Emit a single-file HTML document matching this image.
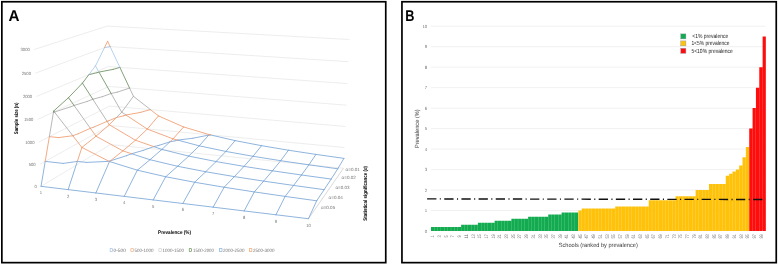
<!DOCTYPE html>
<html><head><meta charset="utf-8"><title>Figure</title>
<style>html,body{margin:0;padding:0;background:#fff}svg{display:block}</style></head>
<body>
<svg width="778" height="265" viewBox="0 0 778 265" style="display:block" text-rendering="geometricPrecision">
<rect width="778" height="265" fill="#fff"/>
<rect x="1.85" y="1.75" width="383.9" height="260.9" fill="none" stroke="#000" stroke-width="1.7"/>
<rect x="401.95" y="1.75" width="374.3" height="260.9" fill="none" stroke="#000" stroke-width="1.7"/>
<text x="8.6" y="20.7" font-family="Liberation Sans, Arial, sans-serif" font-weight="bold" text-rendering="geometricPrecision" font-size="15.7" fill="#000" textLength="11" lengthAdjust="spacingAndGlyphs">A</text>
<text x="405.2" y="20.9" font-family="Liberation Sans, Arial, sans-serif" font-weight="bold" text-rendering="geometricPrecision" font-size="15.7" fill="#000" textLength="9.2" lengthAdjust="spacingAndGlyphs">B</text>
<path d="M41.03 186.32L110.51 144.58L343.48 168.25M39.92 164.34L109.98 125.44L344.46 147.51M38.78 142.05L109.44 106.06L345.46 126.49M37.63 119.43L108.89 86.43L346.47 105.18M36.47 96.48L108.34 66.57L347.49 83.58M35.28 73.19L107.78 46.45L348.53 61.69M34.08 49.56L107.21 26.07L349.58 39.49" fill="none" stroke="#e8e8e8" stroke-width="0.8"/>
<path d="M308.45 218.72L343.48 168.25" fill="none" stroke="#cfcfcf" stroke-width="0.8"/>
<path d="M41.03 186.32L68.16 189.61M41.03 186.32L45.22 161.4M68.16 189.61L95.88 192.96M68.16 189.61L77.35 161.4M109.14 161.36L109.48 161.53M95.88 192.96L124.22 196.4M95.88 192.96L109.48 161.53M109.48 161.53L137.35 170.19M109.48 161.53L110.38 160.82M131.6 153.72L150 159.71M153.77 146.59L161.89 149.4M124.22 196.4L153.19 199.91M124.22 196.4L137.35 170.19M137.35 170.19L165.7 176.74M137.35 170.19L150 159.71M150 159.71L177.59 166.27M150 159.71L161.89 149.4M161.89 149.4L188.74 156.08M161.89 149.4L169.9 141.86M177.76 140.12L199.24 145.84M153.19 199.91L182.83 203.5M153.19 199.91L165.7 176.74M165.7 176.74L194.62 182.26M165.7 176.74L177.59 166.27M177.59 166.27L205.7 171.74M177.59 166.27L188.74 156.08M188.74 156.08L216.1 161.56M188.74 156.08L199.24 145.84M199.24 145.84L225.88 151.44M199.24 145.84L208.71 135.1M210.38 134.89L235.11 140.6M182.83 203.5L213.15 207.17M182.83 203.5L194.62 182.26M194.62 182.26L224.14 187.24M194.62 182.26L205.7 171.74M205.7 171.74L234.38 176.61M205.7 171.74L216.1 161.56M216.1 161.56L243.99 166.38M216.1 161.56L225.88 151.44M225.88 151.44L253.02 156.3M225.88 151.44L235.11 140.6M235.11 140.6L261.55 145.69M213.15 207.17L244.17 210.93M213.15 207.17L224.14 187.24M224.14 187.24L254.31 191.91M224.14 187.24L234.38 176.61M234.38 176.61L263.67 181.13M234.38 176.61L243.99 166.38M243.99 166.38L272.44 170.81M243.99 166.38L253.02 156.3M253.02 156.3L280.69 160.7M253.02 156.3L261.55 145.69M261.55 145.69L288.48 150.22M244.17 210.93L275.93 214.78M244.17 210.93L254.31 191.91M254.31 191.91L285.14 196.41M254.31 191.91L263.67 181.13M263.67 181.13L293.58 185.45M263.67 181.13L272.44 170.81M272.44 170.81L301.49 175M272.44 170.81L280.69 160.7M280.69 160.7L308.92 164.83M280.69 160.7L288.48 150.22M288.48 150.22L315.94 154.41M275.93 214.78L308.45 218.72M275.93 214.78L285.14 196.41M285.14 196.41L316.68 200.8M285.14 196.41L293.58 185.45M293.58 185.45L324.15 189.66M293.58 185.45L301.49 175M301.49 175L331.15 179.06M301.49 175L308.92 164.83M308.92 164.83L337.73 168.79M308.92 164.83L315.94 154.41M315.94 154.41L343.95 158.37M308.45 218.72L316.68 200.8M316.68 200.8L324.15 189.66M324.15 189.66L331.15 179.06M331.15 179.06L337.73 168.79M337.73 168.79L343.95 158.37M63.33 163.41L45.22 161.4M77.35 161.4L63.33 163.41M86.49 162.4L77.35 161.4M109.14 161.36L86.49 162.4M109.14 161.36L109.35 161.28M110.38 160.82L109.35 161.28M126.49 155.7L110.38 160.82M131.6 153.72L126.49 155.7M131.6 153.72L143.09 150.45M153.77 146.59L143.09 150.45M153.77 146.59L158.98 145.36M169.9 141.86L158.98 145.36M174.9 140.88L169.9 141.86M177.76 140.12L174.9 140.88M177.76 140.12L192.96 138.25M208.71 135.1L192.96 138.25M209.56 135.02L208.71 135.1M210.38 134.89L209.56 135.02" fill="none" stroke="#82acd9" stroke-width="0.9" stroke-linecap="round"/>
<path d="M45.22 161.4L49.37 136.65M72.82 135.73L81.9 147.44M90.36 128.3L96 136.21M107.07 121.32L109.26 124.71M77.35 161.4L81.9 147.44M81.9 147.44L109.14 161.36M81.9 147.44L96 136.21M96 136.21L122.87 150.87M96 136.21L109.26 124.71M109.26 124.71L135.45 140.23M109.26 124.71L116.31 117.62M126.01 115.02L147.29 129.09M150.4 109.6L158.45 115.91M110.38 160.82L122.87 150.87M122.87 150.87L131.6 153.72M122.87 150.87L135.45 140.23M135.45 140.23L153.77 146.59M135.45 140.23L147.29 129.09M147.29 129.09L173.07 138.87M147.29 129.09L158.45 115.91M158.45 115.91L183.62 126.95M169.9 141.86L173.07 138.87M173.07 138.87L177.76 140.12M173.07 138.87L183.62 126.95M183.62 126.95L209.15 134.6M208.71 135.1L209.15 134.6M209.15 134.6L210.38 134.89M58.57 137.58L49.37 136.65M72.82 135.73L58.57 137.58M72.82 135.73L78.21 133.74M90.36 128.3L78.21 133.74M90.36 128.3L93.68 127.15M107.07 121.32L93.68 127.15M107.07 121.32L108.37 120.92M116.31 117.62L108.37 120.92M123.51 115.84L116.31 117.62M126.01 115.02L123.51 115.84M126.01 115.02L140.26 112.45M150.4 109.6L140.26 112.45" fill="none" stroke="#f0a277" stroke-width="0.9" stroke-linecap="round"/>
<path d="M49.37 136.65L53.5 112.08M54.45 112.05L72.82 135.73M74.06 105.46L90.36 128.3M92.83 99.27L107.07 121.32M111.09 93.47L121.72 112.18M129.58 88.07L133.44 96.29M116.31 117.62L121.72 112.18M121.72 112.18L126.01 115.02M121.72 112.18L133.44 96.29M133.44 96.29L150.4 109.6M53.87 112.12L53.5 112.08M54.45 112.05L53.87 112.12M54.45 112.05L70.93 106.69M74.06 105.46L70.93 106.69M74.06 105.46L87.11 101.47M92.83 99.27L87.11 101.47M92.83 99.27L102.65 96.57M111.09 93.47L102.65 96.57M111.09 93.47L117.72 92.03M129.58 88.07L117.72 92.03" fill="none" stroke="#b0b0b0" stroke-width="0.9" stroke-linecap="round"/>
<path d="M53.5 112.08L53.67 111.04M53.67 111.04L54.45 112.05M53.67 111.04L68.5 97.67M68.5 97.67L74.06 105.46M68.5 97.67L82.42 83.14M82.42 83.14L92.83 99.27M82.42 83.14L88.84 74.68M98.95 72.09L111.09 93.47M119.88 67.39L129.58 88.07M97.05 72.7L88.84 74.68M98.95 72.09L97.05 72.7M98.95 72.09L113.21 69.35M119.88 67.39L113.21 69.35" fill="none" stroke="#76956a" stroke-width="0.9" stroke-linecap="round"/>
<path d="M88.84 74.68L95.47 65.95M95.47 65.95L98.95 72.09M95.47 65.95L104.49 47.66M110.13 46.6L119.88 67.39M108.76 46.95L104.49 47.66M110.13 46.6L108.76 46.95" fill="none" stroke="#aecdec" stroke-width="0.9" stroke-linecap="round"/>
<path d="M104.49 47.66L107.63 41.28M107.63 41.28L110.13 46.6" fill="none" stroke="#f0a277" stroke-width="0.9" stroke-linecap="round"/>
<text x="36.73" y="187.92" font-family="Liberation Sans, Arial, sans-serif" font-size="4.5" fill="#757575" text-anchor="end" textLength="2.32" lengthAdjust="spacingAndGlyphs">0</text>
<text x="35.62" y="165.94" font-family="Liberation Sans, Arial, sans-serif" font-size="4.5" fill="#757575" text-anchor="end" textLength="6.96" lengthAdjust="spacingAndGlyphs">500</text>
<text x="34.48" y="143.65" font-family="Liberation Sans, Arial, sans-serif" font-size="4.5" fill="#757575" text-anchor="end" textLength="9.28" lengthAdjust="spacingAndGlyphs">1000</text>
<text x="33.33" y="121.03" font-family="Liberation Sans, Arial, sans-serif" font-size="4.5" fill="#757575" text-anchor="end" textLength="9.28" lengthAdjust="spacingAndGlyphs">1500</text>
<text x="32.17" y="98.08" font-family="Liberation Sans, Arial, sans-serif" font-size="4.5" fill="#757575" text-anchor="end" textLength="9.28" lengthAdjust="spacingAndGlyphs">2000</text>
<text x="30.98" y="74.79" font-family="Liberation Sans, Arial, sans-serif" font-size="4.5" fill="#757575" text-anchor="end" textLength="9.28" lengthAdjust="spacingAndGlyphs">2500</text>
<text x="29.78" y="51.16" font-family="Liberation Sans, Arial, sans-serif" font-size="4.5" fill="#757575" text-anchor="end" textLength="9.28" lengthAdjust="spacingAndGlyphs">3000</text>
<text x="41.03" y="194.22" font-family="Liberation Sans, Arial, sans-serif" font-size="4.5" fill="#757575" text-anchor="middle" textLength="2.32" lengthAdjust="spacingAndGlyphs">1</text>
<text x="68.16" y="197.51" font-family="Liberation Sans, Arial, sans-serif" font-size="4.5" fill="#757575" text-anchor="middle" textLength="2.32" lengthAdjust="spacingAndGlyphs">2</text>
<text x="95.88" y="200.86" font-family="Liberation Sans, Arial, sans-serif" font-size="4.5" fill="#757575" text-anchor="middle" textLength="2.32" lengthAdjust="spacingAndGlyphs">3</text>
<text x="124.22" y="204.3" font-family="Liberation Sans, Arial, sans-serif" font-size="4.5" fill="#757575" text-anchor="middle" textLength="2.32" lengthAdjust="spacingAndGlyphs">4</text>
<text x="153.19" y="207.81" font-family="Liberation Sans, Arial, sans-serif" font-size="4.5" fill="#757575" text-anchor="middle" textLength="2.32" lengthAdjust="spacingAndGlyphs">5</text>
<text x="182.83" y="211.4" font-family="Liberation Sans, Arial, sans-serif" font-size="4.5" fill="#757575" text-anchor="middle" textLength="2.32" lengthAdjust="spacingAndGlyphs">6</text>
<text x="213.15" y="215.07" font-family="Liberation Sans, Arial, sans-serif" font-size="4.5" fill="#757575" text-anchor="middle" textLength="2.32" lengthAdjust="spacingAndGlyphs">7</text>
<text x="244.17" y="218.83" font-family="Liberation Sans, Arial, sans-serif" font-size="4.5" fill="#757575" text-anchor="middle" textLength="2.32" lengthAdjust="spacingAndGlyphs">8</text>
<text x="275.93" y="222.68" font-family="Liberation Sans, Arial, sans-serif" font-size="4.5" fill="#757575" text-anchor="middle" textLength="2.32" lengthAdjust="spacingAndGlyphs">9</text>
<text x="308.45" y="226.62" font-family="Liberation Sans, Arial, sans-serif" font-size="4.5" fill="#757575" text-anchor="middle" textLength="4.64" lengthAdjust="spacingAndGlyphs">10</text>
<text x="345.6" y="170.5" font-family="Liberation Sans, Arial, sans-serif" font-size="4.5" fill="#757575" textLength="14.2" lengthAdjust="spacingAndGlyphs">α=0.01</text>
<text x="341.6" y="179.4" font-family="Liberation Sans, Arial, sans-serif" font-size="4.5" fill="#757575" textLength="14.2" lengthAdjust="spacingAndGlyphs">α=0.02</text>
<text x="335.4" y="188.5" font-family="Liberation Sans, Arial, sans-serif" font-size="4.5" fill="#757575" textLength="14.2" lengthAdjust="spacingAndGlyphs">α=0.03</text>
<text x="328.6" y="198.6" font-family="Liberation Sans, Arial, sans-serif" font-size="4.5" fill="#757575" textLength="14.2" lengthAdjust="spacingAndGlyphs">α=0.04</text>
<text x="321" y="209.2" font-family="Liberation Sans, Arial, sans-serif" font-size="4.5" fill="#757575" textLength="14.2" lengthAdjust="spacingAndGlyphs">α=0.05</text>
<text transform="translate(17.7 118.4) rotate(-90)" font-family="Liberation Sans, Arial, sans-serif" font-weight="bold" font-size="5.3" fill="#000" text-anchor="middle" textLength="31.6" lengthAdjust="spacingAndGlyphs">Sample size (n)</text>
<text x="174.5" y="233.9" font-family="Liberation Sans, Arial, sans-serif" font-weight="bold" font-size="5.3" fill="#000" text-anchor="middle" textLength="32.9" lengthAdjust="spacingAndGlyphs">Prevalence (%)</text>
<text transform="translate(367.2 193.3) rotate(-90)" font-family="Liberation Sans, Arial, sans-serif" font-weight="bold" font-size="5.3" fill="#000" text-anchor="middle" textLength="54.8" lengthAdjust="spacingAndGlyphs">Statistical significance (α)</text>
<rect x="110.1" y="248.7" width="2.4" height="2.6" fill="none" stroke="#8db4e0" stroke-width="0.6"/>
<text x="113.5" y="251.6" font-family="Liberation Sans, Arial, sans-serif" font-size="4.8" fill="#757575" textLength="12.5" lengthAdjust="spacingAndGlyphs">0-500</text>
<rect x="130.9" y="248.7" width="2.4" height="2.6" fill="none" stroke="#f0a070" stroke-width="0.6"/>
<text x="134.5" y="251.6" font-family="Liberation Sans, Arial, sans-serif" font-size="4.8" fill="#757575" textLength="19" lengthAdjust="spacingAndGlyphs">500-1000</text>
<rect x="158.9" y="248.7" width="2.4" height="2.6" fill="none" stroke="#c8c8c8" stroke-width="0.6"/>
<text x="162.5" y="251.6" font-family="Liberation Sans, Arial, sans-serif" font-size="4.8" fill="#757575" textLength="21.5" lengthAdjust="spacingAndGlyphs">1000-1500</text>
<rect x="189.2" y="248.7" width="2.4" height="2.6" fill="none" stroke="#4f7f3a" stroke-width="0.6"/>
<text x="193" y="251.6" font-family="Liberation Sans, Arial, sans-serif" font-size="4.8" fill="#757575" textLength="21" lengthAdjust="spacingAndGlyphs">1500-2000</text>
<rect x="219.6" y="248.7" width="2.4" height="2.6" fill="none" stroke="#6fa0d8" stroke-width="0.6"/>
<text x="223" y="251.6" font-family="Liberation Sans, Arial, sans-serif" font-size="4.8" fill="#757575" textLength="21.5" lengthAdjust="spacingAndGlyphs">2000-2500</text>
<rect x="249.5" y="248.7" width="2.4" height="2.6" fill="none" stroke="#f09050" stroke-width="0.6"/>
<text x="253" y="251.6" font-family="Liberation Sans, Arial, sans-serif" font-size="4.8" fill="#757575" textLength="21.5" lengthAdjust="spacingAndGlyphs">2500-3000</text>
<path d="M431 210.52H765.5M431 190.04H765.5M431 169.56H765.5M431 149.08H765.5M431 128.6H765.5M431 108.12H765.5M431 87.64H765.5M431 67.16H765.5M431 46.68H765.5M431 26.2H765.5" fill="none" stroke="#ebebeb" stroke-width="0.7"/>
<text x="427.2" y="232.6" font-family="Liberation Sans, Arial, sans-serif" font-size="4.5" fill="#757575" text-anchor="end" textLength="2.4" lengthAdjust="spacingAndGlyphs">0</text>
<text x="427.2" y="212.12" font-family="Liberation Sans, Arial, sans-serif" font-size="4.5" fill="#757575" text-anchor="end" textLength="2.4" lengthAdjust="spacingAndGlyphs">1</text>
<text x="427.2" y="191.64" font-family="Liberation Sans, Arial, sans-serif" font-size="4.5" fill="#757575" text-anchor="end" textLength="2.4" lengthAdjust="spacingAndGlyphs">2</text>
<text x="427.2" y="171.16" font-family="Liberation Sans, Arial, sans-serif" font-size="4.5" fill="#757575" text-anchor="end" textLength="2.4" lengthAdjust="spacingAndGlyphs">3</text>
<text x="427.2" y="150.68" font-family="Liberation Sans, Arial, sans-serif" font-size="4.5" fill="#757575" text-anchor="end" textLength="2.4" lengthAdjust="spacingAndGlyphs">4</text>
<text x="427.2" y="130.2" font-family="Liberation Sans, Arial, sans-serif" font-size="4.5" fill="#757575" text-anchor="end" textLength="2.4" lengthAdjust="spacingAndGlyphs">5</text>
<text x="427.2" y="109.72" font-family="Liberation Sans, Arial, sans-serif" font-size="4.5" fill="#757575" text-anchor="end" textLength="2.4" lengthAdjust="spacingAndGlyphs">6</text>
<text x="427.2" y="89.24" font-family="Liberation Sans, Arial, sans-serif" font-size="4.5" fill="#757575" text-anchor="end" textLength="2.4" lengthAdjust="spacingAndGlyphs">7</text>
<text x="427.2" y="68.76" font-family="Liberation Sans, Arial, sans-serif" font-size="4.5" fill="#757575" text-anchor="end" textLength="2.4" lengthAdjust="spacingAndGlyphs">8</text>
<text x="427.2" y="48.28" font-family="Liberation Sans, Arial, sans-serif" font-size="4.5" fill="#757575" text-anchor="end" textLength="2.4" lengthAdjust="spacingAndGlyphs">9</text>
<text x="427.2" y="27.8" font-family="Liberation Sans, Arial, sans-serif" font-size="4.5" fill="#757575" text-anchor="end" textLength="4.8" lengthAdjust="spacingAndGlyphs">10</text>
<path d="M430.98 231v-4.1h3.2v4.1zM434.33 231v-4.1h3.2v4.1zM437.68 231v-4.1h3.2v4.1zM441.03 231v-4.1h3.2v4.1zM444.38 231v-4.1h3.2v4.1zM447.73 231v-4.1h3.2v4.1zM451.08 231v-4.1h3.2v4.1zM454.43 231v-4.1h3.2v4.1zM457.78 231v-4.1h3.2v4.1zM461.13 231v-6.14h3.2v6.14zM464.48 231v-6.14h3.2v6.14zM467.83 231v-6.14h3.2v6.14zM471.18 231v-6.14h3.2v6.14zM474.53 231v-6.14h3.2v6.14zM477.88 231v-8.19h3.2v8.19zM481.23 231v-8.19h3.2v8.19zM484.58 231v-8.19h3.2v8.19zM487.93 231v-8.19h3.2v8.19zM491.28 231v-8.19h3.2v8.19zM494.63 231v-10.24h3.2v10.24zM497.98 231v-10.24h3.2v10.24zM501.33 231v-10.24h3.2v10.24zM504.68 231v-10.24h3.2v10.24zM508.03 231v-10.24h3.2v10.24zM511.38 231v-12.29h3.2v12.29zM514.73 231v-12.29h3.2v12.29zM518.08 231v-12.29h3.2v12.29zM521.43 231v-12.29h3.2v12.29zM524.78 231v-12.29h3.2v12.29zM528.13 231v-14.34h3.2v14.34zM531.48 231v-14.34h3.2v14.34zM534.83 231v-14.34h3.2v14.34zM538.18 231v-14.34h3.2v14.34zM541.53 231v-14.34h3.2v14.34zM544.88 231v-14.34h3.2v14.34zM548.23 231v-16.38h3.2v16.38zM551.58 231v-16.38h3.2v16.38zM554.93 231v-16.38h3.2v16.38zM558.28 231v-16.38h3.2v16.38zM561.63 231v-18.43h3.2v18.43zM564.98 231v-18.43h3.2v18.43zM568.33 231v-18.43h3.2v18.43zM571.68 231v-18.43h3.2v18.43zM575.03 231v-18.43h3.2v18.43z" fill="#12ab50"/>
<path d="M578.38 231v-20.48h3.2v20.48zM581.73 231v-22.53h3.2v22.53zM585.08 231v-22.53h3.2v22.53zM588.43 231v-22.53h3.2v22.53zM591.78 231v-22.53h3.2v22.53zM595.13 231v-22.53h3.2v22.53zM598.48 231v-22.53h3.2v22.53zM601.83 231v-22.53h3.2v22.53zM605.18 231v-22.53h3.2v22.53zM608.53 231v-22.53h3.2v22.53zM611.88 231v-22.53h3.2v22.53zM615.23 231v-24.58h3.2v24.58zM618.58 231v-24.58h3.2v24.58zM621.93 231v-24.58h3.2v24.58zM625.28 231v-24.58h3.2v24.58zM628.63 231v-24.58h3.2v24.58zM631.98 231v-24.58h3.2v24.58zM635.33 231v-24.58h3.2v24.58zM638.68 231v-24.58h3.2v24.58zM642.03 231v-24.58h3.2v24.58zM645.38 231v-24.58h3.2v24.58zM648.73 231v-30.72h3.2v30.72zM652.08 231v-30.72h3.2v30.72zM655.43 231v-30.72h3.2v30.72zM658.78 231v-30.72h3.2v30.72zM662.13 231v-30.72h3.2v30.72zM665.48 231v-30.72h3.2v30.72zM668.83 231v-30.72h3.2v30.72zM672.18 231v-30.72h3.2v30.72zM675.53 231v-34.82h3.2v34.82zM678.88 231v-34.82h3.2v34.82zM682.23 231v-34.82h3.2v34.82zM685.58 231v-34.82h3.2v34.82zM688.93 231v-34.82h3.2v34.82zM692.28 231v-34.82h3.2v34.82zM695.63 231v-40.96h3.2v40.96zM698.98 231v-40.96h3.2v40.96zM702.33 231v-40.96h3.2v40.96zM705.68 231v-40.96h3.2v40.96zM709.03 231v-47.1h3.2v47.1zM712.38 231v-47.1h3.2v47.1zM715.73 231v-47.1h3.2v47.1zM719.08 231v-47.1h3.2v47.1zM722.43 231v-47.1h3.2v47.1zM725.78 231v-55.3h3.2v55.3zM729.13 231v-57.34h3.2v57.34zM732.48 231v-59.39h3.2v59.39zM735.83 231v-61.44h3.2v61.44zM739.18 231v-65.54h3.2v65.54zM742.53 231v-73.73h3.2v73.73zM745.88 231v-83.97h3.2v83.97z" fill="#ffc20a"/>
<path d="M749.23 231v-102.4h3.2v102.4zM752.58 231v-122.88h3.2v122.88zM755.93 231v-143.36h3.2v143.36zM759.28 231v-163.84h3.2v163.84zM762.63 231v-194.56h3.2v194.56z" fill="#ff0d0d"/>
<path d="M427.1 198.9L765.9 199.5" fill="none" stroke="#111" stroke-width="1.4" stroke-dasharray="9.3 3.4 1.1 3.36"/>
<text transform="translate(434.32 236.4) rotate(-90)" font-family="Liberation Sans, Arial, sans-serif" font-size="5" fill="#757575" text-anchor="middle" textLength="2.2" lengthAdjust="spacingAndGlyphs">1</text>
<text transform="translate(441.02 236.4) rotate(-90)" font-family="Liberation Sans, Arial, sans-serif" font-size="5" fill="#757575" text-anchor="middle" textLength="2.2" lengthAdjust="spacingAndGlyphs">3</text>
<text transform="translate(447.72 236.4) rotate(-90)" font-family="Liberation Sans, Arial, sans-serif" font-size="5" fill="#757575" text-anchor="middle" textLength="2.2" lengthAdjust="spacingAndGlyphs">5</text>
<text transform="translate(454.42 236.4) rotate(-90)" font-family="Liberation Sans, Arial, sans-serif" font-size="5" fill="#757575" text-anchor="middle" textLength="2.2" lengthAdjust="spacingAndGlyphs">7</text>
<text transform="translate(461.12 236.4) rotate(-90)" font-family="Liberation Sans, Arial, sans-serif" font-size="5" fill="#757575" text-anchor="middle" textLength="2.2" lengthAdjust="spacingAndGlyphs">9</text>
<text transform="translate(467.82 236.4) rotate(-90)" font-family="Liberation Sans, Arial, sans-serif" font-size="5" fill="#757575" text-anchor="middle" textLength="4.4" lengthAdjust="spacingAndGlyphs">11</text>
<text transform="translate(474.52 236.4) rotate(-90)" font-family="Liberation Sans, Arial, sans-serif" font-size="5" fill="#757575" text-anchor="middle" textLength="4.4" lengthAdjust="spacingAndGlyphs">13</text>
<text transform="translate(481.22 236.4) rotate(-90)" font-family="Liberation Sans, Arial, sans-serif" font-size="5" fill="#757575" text-anchor="middle" textLength="4.4" lengthAdjust="spacingAndGlyphs">15</text>
<text transform="translate(487.92 236.4) rotate(-90)" font-family="Liberation Sans, Arial, sans-serif" font-size="5" fill="#757575" text-anchor="middle" textLength="4.4" lengthAdjust="spacingAndGlyphs">17</text>
<text transform="translate(494.62 236.4) rotate(-90)" font-family="Liberation Sans, Arial, sans-serif" font-size="5" fill="#757575" text-anchor="middle" textLength="4.4" lengthAdjust="spacingAndGlyphs">19</text>
<text transform="translate(501.32 236.4) rotate(-90)" font-family="Liberation Sans, Arial, sans-serif" font-size="5" fill="#757575" text-anchor="middle" textLength="4.4" lengthAdjust="spacingAndGlyphs">21</text>
<text transform="translate(508.02 236.4) rotate(-90)" font-family="Liberation Sans, Arial, sans-serif" font-size="5" fill="#757575" text-anchor="middle" textLength="4.4" lengthAdjust="spacingAndGlyphs">23</text>
<text transform="translate(514.73 236.4) rotate(-90)" font-family="Liberation Sans, Arial, sans-serif" font-size="5" fill="#757575" text-anchor="middle" textLength="4.4" lengthAdjust="spacingAndGlyphs">25</text>
<text transform="translate(521.42 236.4) rotate(-90)" font-family="Liberation Sans, Arial, sans-serif" font-size="5" fill="#757575" text-anchor="middle" textLength="4.4" lengthAdjust="spacingAndGlyphs">27</text>
<text transform="translate(528.12 236.4) rotate(-90)" font-family="Liberation Sans, Arial, sans-serif" font-size="5" fill="#757575" text-anchor="middle" textLength="4.4" lengthAdjust="spacingAndGlyphs">29</text>
<text transform="translate(534.82 236.4) rotate(-90)" font-family="Liberation Sans, Arial, sans-serif" font-size="5" fill="#757575" text-anchor="middle" textLength="4.4" lengthAdjust="spacingAndGlyphs">31</text>
<text transform="translate(541.52 236.4) rotate(-90)" font-family="Liberation Sans, Arial, sans-serif" font-size="5" fill="#757575" text-anchor="middle" textLength="4.4" lengthAdjust="spacingAndGlyphs">33</text>
<text transform="translate(548.23 236.4) rotate(-90)" font-family="Liberation Sans, Arial, sans-serif" font-size="5" fill="#757575" text-anchor="middle" textLength="4.4" lengthAdjust="spacingAndGlyphs">35</text>
<text transform="translate(554.92 236.4) rotate(-90)" font-family="Liberation Sans, Arial, sans-serif" font-size="5" fill="#757575" text-anchor="middle" textLength="4.4" lengthAdjust="spacingAndGlyphs">37</text>
<text transform="translate(561.62 236.4) rotate(-90)" font-family="Liberation Sans, Arial, sans-serif" font-size="5" fill="#757575" text-anchor="middle" textLength="4.4" lengthAdjust="spacingAndGlyphs">39</text>
<text transform="translate(568.33 236.4) rotate(-90)" font-family="Liberation Sans, Arial, sans-serif" font-size="5" fill="#757575" text-anchor="middle" textLength="4.4" lengthAdjust="spacingAndGlyphs">41</text>
<text transform="translate(575.02 236.4) rotate(-90)" font-family="Liberation Sans, Arial, sans-serif" font-size="5" fill="#757575" text-anchor="middle" textLength="4.4" lengthAdjust="spacingAndGlyphs">43</text>
<text transform="translate(581.73 236.4) rotate(-90)" font-family="Liberation Sans, Arial, sans-serif" font-size="5" fill="#757575" text-anchor="middle" textLength="4.4" lengthAdjust="spacingAndGlyphs">45</text>
<text transform="translate(588.42 236.4) rotate(-90)" font-family="Liberation Sans, Arial, sans-serif" font-size="5" fill="#757575" text-anchor="middle" textLength="4.4" lengthAdjust="spacingAndGlyphs">47</text>
<text transform="translate(595.12 236.4) rotate(-90)" font-family="Liberation Sans, Arial, sans-serif" font-size="5" fill="#757575" text-anchor="middle" textLength="4.4" lengthAdjust="spacingAndGlyphs">49</text>
<text transform="translate(601.83 236.4) rotate(-90)" font-family="Liberation Sans, Arial, sans-serif" font-size="5" fill="#757575" text-anchor="middle" textLength="4.4" lengthAdjust="spacingAndGlyphs">51</text>
<text transform="translate(608.52 236.4) rotate(-90)" font-family="Liberation Sans, Arial, sans-serif" font-size="5" fill="#757575" text-anchor="middle" textLength="4.4" lengthAdjust="spacingAndGlyphs">53</text>
<text transform="translate(615.23 236.4) rotate(-90)" font-family="Liberation Sans, Arial, sans-serif" font-size="5" fill="#757575" text-anchor="middle" textLength="4.4" lengthAdjust="spacingAndGlyphs">55</text>
<text transform="translate(621.92 236.4) rotate(-90)" font-family="Liberation Sans, Arial, sans-serif" font-size="5" fill="#757575" text-anchor="middle" textLength="4.4" lengthAdjust="spacingAndGlyphs">57</text>
<text transform="translate(628.62 236.4) rotate(-90)" font-family="Liberation Sans, Arial, sans-serif" font-size="5" fill="#757575" text-anchor="middle" textLength="4.4" lengthAdjust="spacingAndGlyphs">59</text>
<text transform="translate(635.33 236.4) rotate(-90)" font-family="Liberation Sans, Arial, sans-serif" font-size="5" fill="#757575" text-anchor="middle" textLength="4.4" lengthAdjust="spacingAndGlyphs">61</text>
<text transform="translate(642.02 236.4) rotate(-90)" font-family="Liberation Sans, Arial, sans-serif" font-size="5" fill="#757575" text-anchor="middle" textLength="4.4" lengthAdjust="spacingAndGlyphs">63</text>
<text transform="translate(648.73 236.4) rotate(-90)" font-family="Liberation Sans, Arial, sans-serif" font-size="5" fill="#757575" text-anchor="middle" textLength="4.4" lengthAdjust="spacingAndGlyphs">65</text>
<text transform="translate(655.42 236.4) rotate(-90)" font-family="Liberation Sans, Arial, sans-serif" font-size="5" fill="#757575" text-anchor="middle" textLength="4.4" lengthAdjust="spacingAndGlyphs">67</text>
<text transform="translate(662.12 236.4) rotate(-90)" font-family="Liberation Sans, Arial, sans-serif" font-size="5" fill="#757575" text-anchor="middle" textLength="4.4" lengthAdjust="spacingAndGlyphs">69</text>
<text transform="translate(668.83 236.4) rotate(-90)" font-family="Liberation Sans, Arial, sans-serif" font-size="5" fill="#757575" text-anchor="middle" textLength="4.4" lengthAdjust="spacingAndGlyphs">71</text>
<text transform="translate(675.52 236.4) rotate(-90)" font-family="Liberation Sans, Arial, sans-serif" font-size="5" fill="#757575" text-anchor="middle" textLength="4.4" lengthAdjust="spacingAndGlyphs">73</text>
<text transform="translate(682.23 236.4) rotate(-90)" font-family="Liberation Sans, Arial, sans-serif" font-size="5" fill="#757575" text-anchor="middle" textLength="4.4" lengthAdjust="spacingAndGlyphs">75</text>
<text transform="translate(688.92 236.4) rotate(-90)" font-family="Liberation Sans, Arial, sans-serif" font-size="5" fill="#757575" text-anchor="middle" textLength="4.4" lengthAdjust="spacingAndGlyphs">77</text>
<text transform="translate(695.62 236.4) rotate(-90)" font-family="Liberation Sans, Arial, sans-serif" font-size="5" fill="#757575" text-anchor="middle" textLength="4.4" lengthAdjust="spacingAndGlyphs">79</text>
<text transform="translate(702.33 236.4) rotate(-90)" font-family="Liberation Sans, Arial, sans-serif" font-size="5" fill="#757575" text-anchor="middle" textLength="4.4" lengthAdjust="spacingAndGlyphs">81</text>
<text transform="translate(709.02 236.4) rotate(-90)" font-family="Liberation Sans, Arial, sans-serif" font-size="5" fill="#757575" text-anchor="middle" textLength="4.4" lengthAdjust="spacingAndGlyphs">83</text>
<text transform="translate(715.72 236.4) rotate(-90)" font-family="Liberation Sans, Arial, sans-serif" font-size="5" fill="#757575" text-anchor="middle" textLength="4.4" lengthAdjust="spacingAndGlyphs">85</text>
<text transform="translate(722.42 236.4) rotate(-90)" font-family="Liberation Sans, Arial, sans-serif" font-size="5" fill="#757575" text-anchor="middle" textLength="4.4" lengthAdjust="spacingAndGlyphs">87</text>
<text transform="translate(729.12 236.4) rotate(-90)" font-family="Liberation Sans, Arial, sans-serif" font-size="5" fill="#757575" text-anchor="middle" textLength="4.4" lengthAdjust="spacingAndGlyphs">89</text>
<text transform="translate(735.83 236.4) rotate(-90)" font-family="Liberation Sans, Arial, sans-serif" font-size="5" fill="#757575" text-anchor="middle" textLength="4.4" lengthAdjust="spacingAndGlyphs">91</text>
<text transform="translate(742.52 236.4) rotate(-90)" font-family="Liberation Sans, Arial, sans-serif" font-size="5" fill="#757575" text-anchor="middle" textLength="4.4" lengthAdjust="spacingAndGlyphs">93</text>
<text transform="translate(749.22 236.4) rotate(-90)" font-family="Liberation Sans, Arial, sans-serif" font-size="5" fill="#757575" text-anchor="middle" textLength="4.4" lengthAdjust="spacingAndGlyphs">95</text>
<text transform="translate(755.92 236.4) rotate(-90)" font-family="Liberation Sans, Arial, sans-serif" font-size="5" fill="#757575" text-anchor="middle" textLength="4.4" lengthAdjust="spacingAndGlyphs">97</text>
<text transform="translate(762.62 236.4) rotate(-90)" font-family="Liberation Sans, Arial, sans-serif" font-size="5" fill="#757575" text-anchor="middle" textLength="4.4" lengthAdjust="spacingAndGlyphs">99</text>
<text x="598.3" y="246.6" font-family="Liberation Sans, Arial, sans-serif" font-size="6" fill="#383838" text-anchor="middle" textLength="79" lengthAdjust="spacingAndGlyphs">Schools (ranked by prevalence)</text>
<text transform="translate(418.7 128.7) rotate(-90)" font-family="Liberation Sans, Arial, sans-serif" font-size="6" fill="#383838" text-anchor="middle" textLength="38.8" lengthAdjust="spacingAndGlyphs">Prevalence (%)</text>
<rect x="680.8" y="33.9" width="5.1" height="5" fill="#12ab50" stroke="#8a93a8" stroke-width="0.4"/>
<text x="692.3" y="38.3" font-family="Liberation Sans, Arial, sans-serif" font-size="6" fill="#222" textLength="35.9" lengthAdjust="spacingAndGlyphs">&lt;1% prevalence</text>
<rect x="680.8" y="40.9" width="5.1" height="5" fill="#ffc20a" stroke="#8a93a8" stroke-width="0.4"/>
<text x="691.4" y="45.3" font-family="Liberation Sans, Arial, sans-serif" font-size="6" fill="#222" textLength="38.1" lengthAdjust="spacingAndGlyphs">1&lt;5% prevalence</text>
<rect x="680.8" y="48.3" width="5.1" height="5" fill="#ff0d0d" stroke="#8a93a8" stroke-width="0.4"/>
<text x="691.4" y="52.7" font-family="Liberation Sans, Arial, sans-serif" font-size="6" fill="#222" textLength="41.5" lengthAdjust="spacingAndGlyphs">5&lt;10% prevalence</text>
</svg>
</body></html>
